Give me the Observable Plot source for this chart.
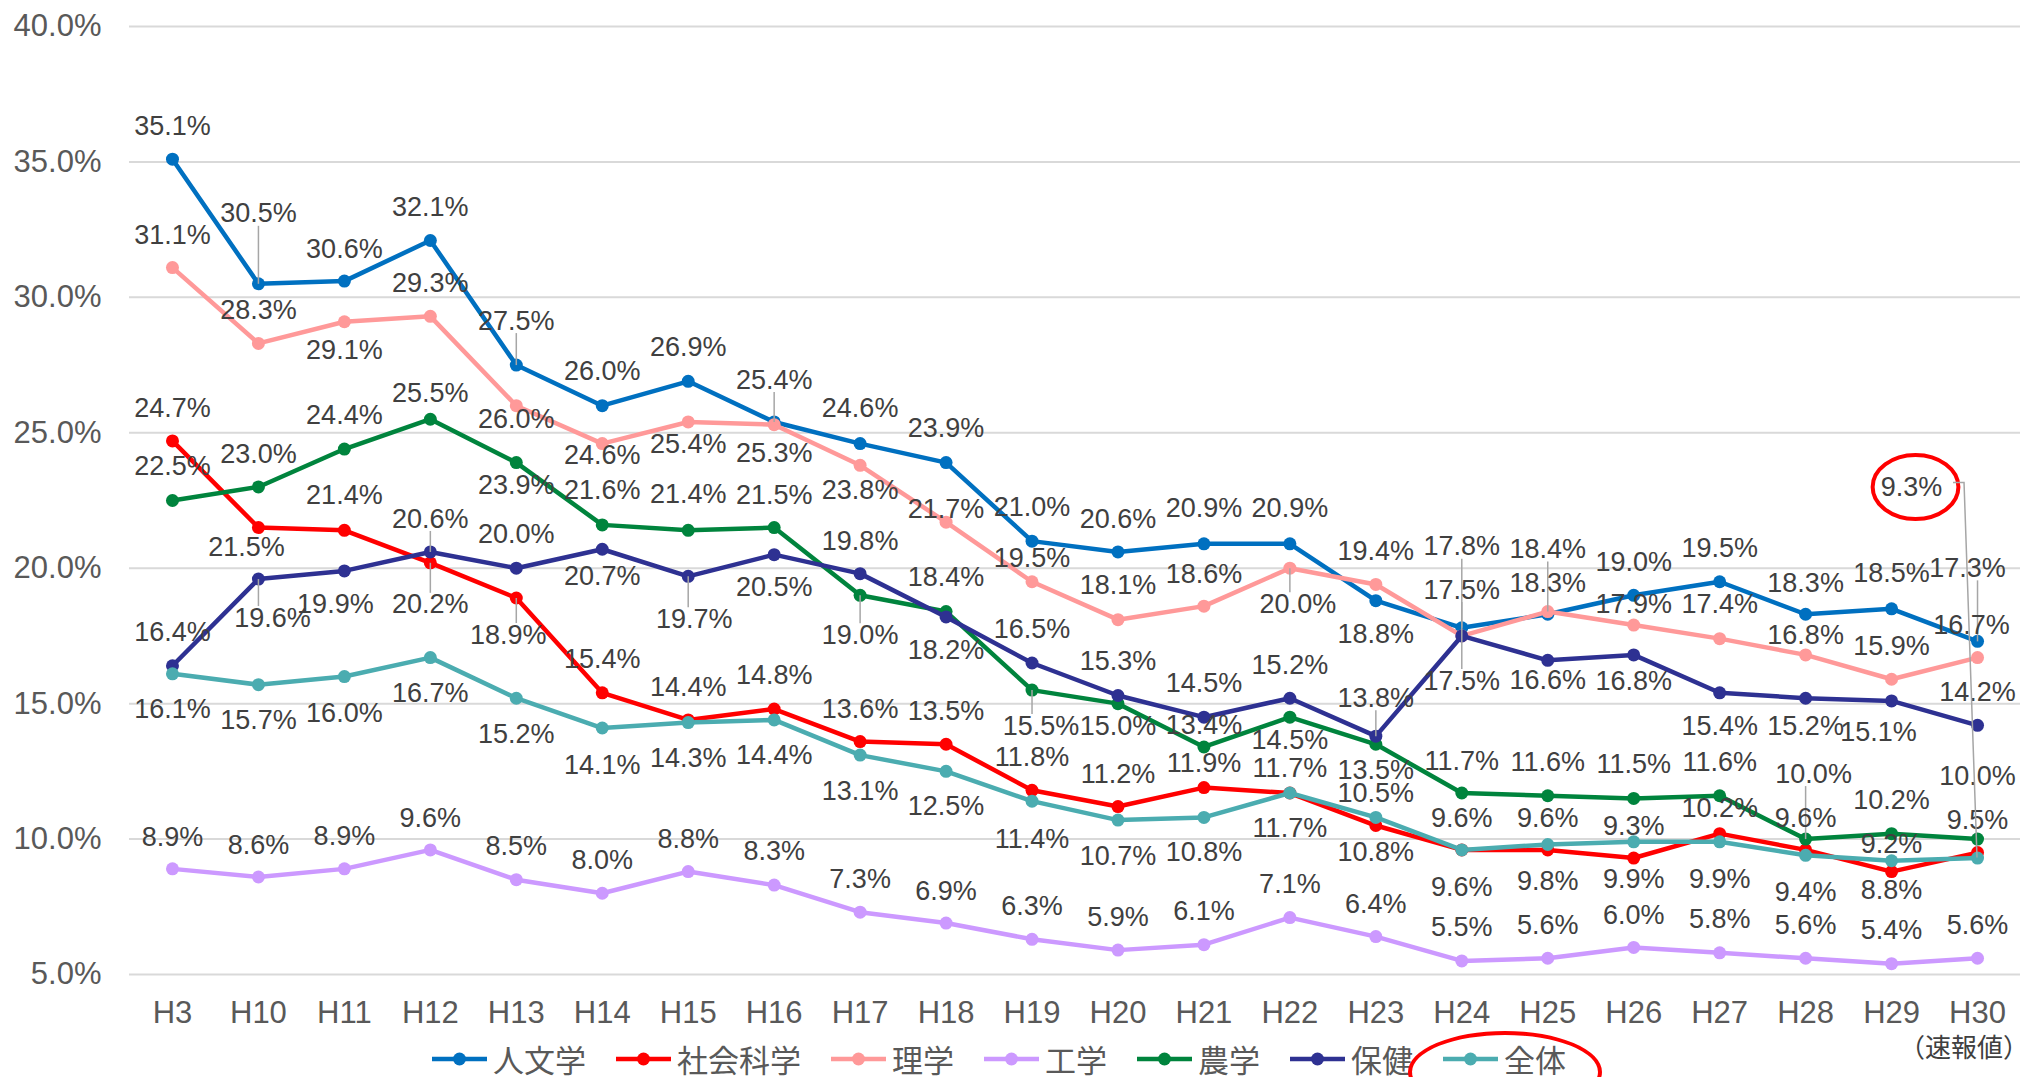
<!DOCTYPE html>
<html>
<head>
<meta charset="utf-8">
<script src="https://cdn.jsdelivr.net/npm/d3@7"></script>
<script src="https://cdn.jsdelivr.net/npm/@observablehq/plot@0.6"></script>
<style>
  html, body { margin: 0; padding: 0; background: #ffffff; }
  body { width: 2030px; height: 1077px; overflow: hidden; position: relative; font-family: "Liberation Sans", Arial, sans-serif; }
  #chart svg { display: block; }
  #legend { position: absolute; left: 0; top: 1036px; width: 2030px; height: 46px; display: flex; align-items: center; padding-left: 432px; box-sizing: border-box; }
  .item { display: flex; align-items: center; margin-right: 30px; position: relative; height: 46px; }
  .item svg { display: block; }
  .item span { font-family: "Noto Sans CJK JP", sans-serif; font-size: 31px; color: #595959; line-height: 46px; margin-left: 6px; white-space: nowrap; }
  .ring { position: absolute; left: 50%; top: calc(50% + 13px); width: 194px; height: 82px; transform: translate(-50%, -50%); border: 4px solid #ff0000; border-radius: 50%; box-sizing: border-box; pointer-events: none; }
  #note { position: absolute; left: 1899px; top: 1031px; font-family: "Noto Sans CJK JP", sans-serif; font-size: 26px; line-height: 30px; color: #404040; white-space: nowrap; }
</style>
</head>
<body>
<div id="chart"></div>
<div id="legend"></div>
<div id="note">（速報値）</div>
<script>
// ---- data ----
const years = ["H3","H10","H11","H12","H13","H14","H15","H16","H17","H18","H19","H20","H21","H22","H23","H24","H25","H26","H27","H28","H29","H30"];
const seriesNames = ["人文学","社会科学","理学","工学","農学","保健","全体"];
const jinbun  = [35.1,30.5,30.6,32.1,27.5,26.0,26.9,25.4,24.6,23.9,21.0,20.6,20.9,20.9,18.8,17.8,18.3,19.0,19.5,18.3,18.5,17.3];
const shakai  = [24.7,21.5,21.4,20.2,18.9,15.4,14.4,14.8,13.6,13.5,11.8,11.2,11.9,11.7,10.5,9.6,9.6,9.3,10.2,9.6,8.8,9.5];
const rigaku  = [31.1,28.3,29.1,29.3,26.0,24.6,25.4,25.3,23.8,21.7,19.5,18.1,18.6,20.0,19.4,17.5,18.4,17.9,17.4,16.8,15.9,16.7];
const kougaku = [8.9,8.6,8.9,9.6,8.5,8.0,8.8,8.3,7.3,6.9,6.3,5.9,6.1,7.1,6.4,5.5,5.6,6.0,5.8,5.6,5.4,5.6];
const nougaku = [22.5,23.0,24.4,25.5,23.9,21.6,21.4,21.5,19.0,18.4,15.5,15.0,13.4,14.5,13.5,11.7,11.6,11.5,11.6,10.0,10.2,10.0];
const hoken   = [16.4,19.6,19.9,20.6,20.0,20.7,19.7,20.5,19.8,18.2,16.5,15.3,14.5,15.2,13.8,17.5,16.6,16.8,15.4,15.2,15.1,14.2];
const zentai  = [16.1,15.7,16.0,16.7,15.2,14.1,14.3,14.4,13.1,12.5,11.4,10.7,10.8,11.7,10.8,9.6,9.8,9.9,9.9,9.4,9.2,9.3];
const yTicks = [5,10,15,20,25,30,35,40];

// ---- styling / layout ----
const seriesColors = ["#0070C0","#FF0000","#FF9999","#CC99FF","#00843D","#2E3192","#4BACB0"];
const seriesValues = [jinbun, shakai, rigaku, kougaku, nougaku, hoken, zentai];
// label offsets (px, label centre relative to point; negative = above)
const labelDy = [
  [-33,-70,-32,-33,-44,-34,-34,-42,-35,-34,-34,-33,-35,-35,34,-81,-31,-33,-33,-31,-35,-73],
  [-33,20,-35,42,37,-33,-33,-34,-32,-33,-33,-32,-24,-25,-32,-32,-32,-32,-25,-32,19,-32],
  [-32,-33,29,-33,14,12,22,29,25,-13,-23,-34,-32,36,-33,-46,-62,-21,-34,-20,-33,-32],
  [-32,-32,-33,-32,-33,-33,-32,-34,-33,-32,-33,-33,-33,-33,-32,-34,-33,-32,-33,-33,-33,-33],
  [-34,-33,-34,-26,23,-35,-36,-32,40,-34,36,23,-22,23,26,-32,-33,-34,-33,-65,-33,-63],
  [-33,39,33,-33,-34,27,43,33,-32,33,-34,-34,-34,-33,-38,45,20,26,34,28,31,-33],
  [36,36,37,36,36,37,36,35,36,35,38,36,35,35,35,37,37,38,38,37,-16,null]
];
const labelDx = {"社会科学|H10":-12,"保健|H10":14,"保健|H11":-9,"社会科学|H13":-8,"保健|H29":-13,"人文学|H30":-10,"理学|H30":-6,"農学|H19":9,"理学|H22":8,"農学|H28":8,"保健|H15":6};
const leaders = new Set(["人文学|H10","人文学|H13","人文学|H16","人文学|H24","人文学|H30","社会科学|H12","社会科学|H13","理学|H22","理学|H24","理学|H25","農学|H17","農学|H19","農学|H28","保健|H10","保健|H12","保健|H15","保健|H23","保健|H24"]);
const calloutY = 23.0;   // callout label level for the circled value
const calloutDx = -66;

const W = 2030, H = 1036, mT = 26, mB = 62, mL = 129, mR = 10;
const yMin = 5, yMax = 40;
const ppu = (H - mT - mB) / (yMax - yMin);
const fmt = v => v.toFixed(1) + "%";

const rows = [];
seriesNames.forEach((s, i) => years.forEach((c, j) => rows.push({
  series: s, cat: c, value: seriesValues[i][j], dy: labelDy[i][j],
  dx: labelDx[s + "|" + c] || 0, leader: leaders.has(s + "|" + c)
})));

const k = 0.5522847498;
const ellipseSymbol = {
  draw(ctx, size) {
    const ry = Math.sqrt(size / Math.PI), rx = ry * 1.34;
    ctx.moveTo(rx, 0);
    ctx.bezierCurveTo(rx, ry * k, rx * k, ry, 0, ry);
    ctx.bezierCurveTo(-rx * k, ry, -rx, ry * k, -rx, 0);
    ctx.bezierCurveTo(-rx, -ry * k, -rx * k, -ry, 0, -ry);
    ctx.bezierCurveTo(rx * k, -ry, rx, -ry * k, rx, 0);
    ctx.closePath();
  }
};

const marks = [Plot.ruleY(yTicks, {stroke: "#d9d9d9", strokeWidth: 2})];
seriesNames.forEach(s => {
  const d = rows.filter(r => r.series === s);
  marks.push(Plot.line(d, {x: "cat", y: "value", stroke: "series", strokeWidth: 4.5, strokeLinejoin: "round", strokeLinecap: "round"}));
  marks.push(Plot.dot(d, {x: "cat", y: "value", fill: "series", r: 6.5}));
});
marks.push(Plot.link(rows.filter(r => r.leader), {
  x1: "cat", x2: "cat", y1: "value",
  y2: d => d.value - (d.dy + (d.dy < 0 ? 12 : -12)) / ppu,
  stroke: "#a6a6a6", strokeWidth: 1.5
}));
const regular = rows.filter(r => r.dy != null);
Array.from(new Set(regular.map(r => r.dx))).forEach(dx => {
  marks.push(Plot.text(regular.filter(r => r.dx === dx), {
    x: "cat", y: d => d.value - d.dy / ppu, text: d => fmt(d.value),
    dx, fontSize: 27, fill: "#404040"
  }));
});
const callout = rows.filter(r => r.dy == null);
marks.push(Plot.text(callout, {x: "cat", y: () => calloutY, text: d => fmt(d.value), dx: calloutDx, fontSize: 27, fill: "#404040"}));
marks.push(Plot.dot(callout, {x: "cat", y: () => calloutY, dx: calloutDx + 4, r: 32, symbol: ellipseSymbol, stroke: "#ff0000", strokeWidth: 4, fill: "none"}));

const chart = Plot.plot({
  width: W, height: H,
  marginTop: mT, marginBottom: mB, marginLeft: mL, marginRight: mR,
  style: {fontSize: "31px", fontFamily: "'Liberation Sans', Arial, sans-serif", color: "#595959", background: "#ffffff", overflow: "visible"},
  x: {type: "point", domain: years, padding: 0.5, round: false, tickSize: 0, tickPadding: 26, label: null},
  y: {domain: [yMin, yMax], ticks: yTicks, tickFormat: d => d.toFixed(1) + "%", tickSize: 0, tickPadding: 28, label: null},
  color: {domain: seriesNames, range: seriesColors},
  marks
});
document.getElementById("chart").appendChild(chart);

// elbow leader from the circled callout to its point
(function () {
  const sx = chart.scale("x"), sy = chart.scale("y");
  const X = sx.apply ? (v => sx.apply(v)) : (v => d3.scalePoint(sx.domain, sx.range).padding(sx.padding ?? 0.5).align(sx.align ?? 0.5)(v));
  const Y = sy.apply ? (v => sy.apply(v)) : (v => d3.scaleLinear(sy.domain, sy.range)(v));
  callout.forEach(d => {
    const x0 = X(d.cat), yl = Y(calloutY) - 4, yp = Y(d.value);
    d3.select(chart).append("path")
      .attr("d", `M${x0 - 24},${yl}H${x0 - 13}L${x0},${yp}`)
      .attr("fill", "none").attr("stroke", "#a6a6a6").attr("stroke-width", 1.5);
  });
})();

// legend
const legend = d3.select("#legend");
seriesNames.forEach((s, i) => {
  const it = legend.append("div").attr("class", "item");
  const sv = it.append("svg").attr("width", 55).attr("height", 16);
  sv.append("line").attr("x1", 0).attr("x2", 55).attr("y1", 8).attr("y2", 8).attr("stroke", seriesColors[i]).attr("stroke-width", 4.5);
  sv.append("circle").attr("cx", 27.5).attr("cy", 8).attr("r", 6.5).attr("fill", seriesColors[i]);
  it.append("span").text(s);
  if (s === "全体") it.append("div").attr("class", "ring");
});
</script>
</body>
</html>
